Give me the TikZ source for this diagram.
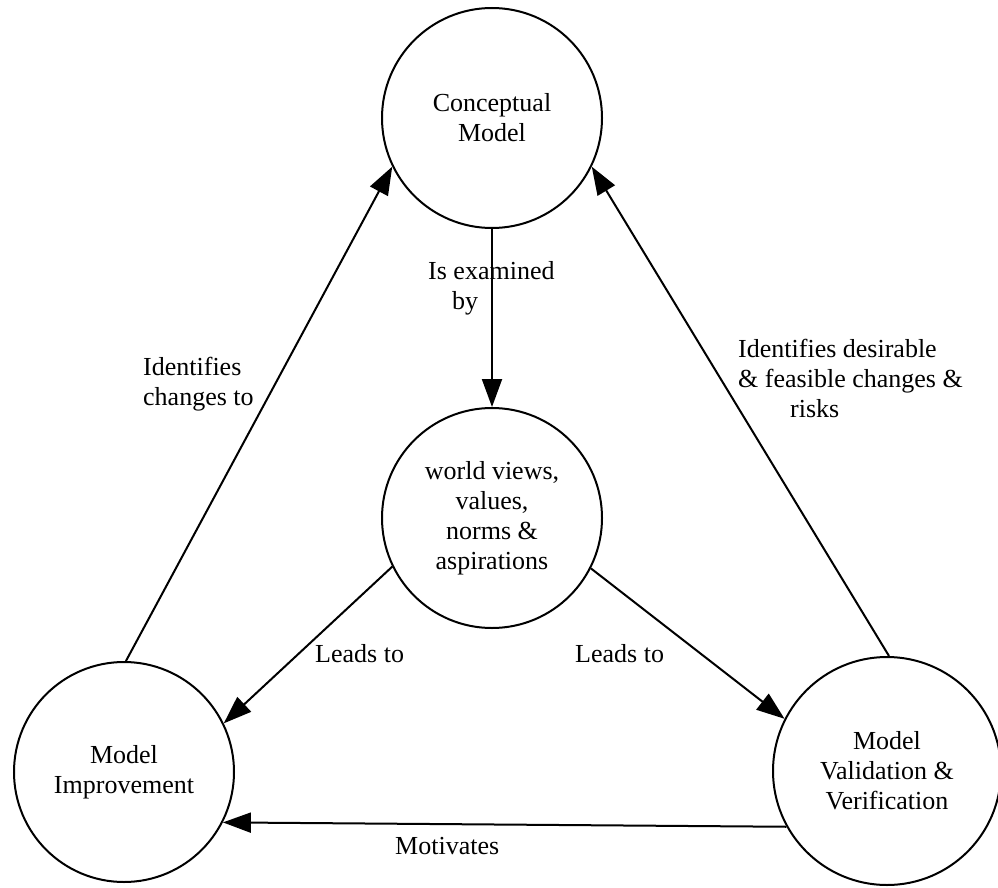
\documentclass[tikz,border=0pt]{standalone}
\usepackage{fontspec}
\setmainfont{Liberation Serif}
\usetikzlibrary{arrows.meta}
\begin{document}
\begin{tikzpicture}[x=1pt,y=-1pt,
  state/.style={circle, draw, line width=2pt, minimum size=220pt, inner sep=0pt,
    align=center, font=\fontsize{26}{30}\selectfont},
  rel/.style={line width=2pt, -{Triangle[length=28pt,width=20pt]}},
  lbl/.style={inner sep=0pt, align=left, anchor=base west,
    font=\fontsize{26}{30}\selectfont}]
\useasboundingbox (0,0) rectangle (998,888);

% the four stages
\node[state] (cm) at (492,118) {Conceptual\\Model};
\node[state] (wv) at (492,518) {world views,\\values,\\norms \&\\aspirations};
\node[state] (mi) at (124,772) {Model\\Improvement};
\node[state, minimum size=228pt] (vv) at (887,771) {Model\\Validation \&\\Verification};

% relations between them
\draw[rel] (mi.89.5) -- (cm.206.6);
\draw[rel] (vv.89) -- (cm.-26.6);
\draw[rel] (cm.south) -- (wv.north);
\draw[rel] (wv.206.8) -- (mi.26.8);
\draw[rel] (wv.-27) -- (vv.153);
\draw[rel] (vv.209) -- (mi.333);

% relation labels (base anchor sits on the last line)
\node[lbl] (l-exam) at (428,309) {Is examined\\\hspace*{24pt}by};
\node[lbl] (l-chg) at (143,405) {Identifies\\changes to};
\node[lbl] (l-des) at (738,417) {Identifies desirable\\\& feasible changes \&\\\hspace*{52pt}risks};
\node[lbl] (l-lead1) at (315,662) {Leads to};
\node[lbl] (l-lead2) at (575,662) {Leads to};
\node[lbl] (l-mot) at (395,854) {Motivates};
\end{tikzpicture}
\end{document}
